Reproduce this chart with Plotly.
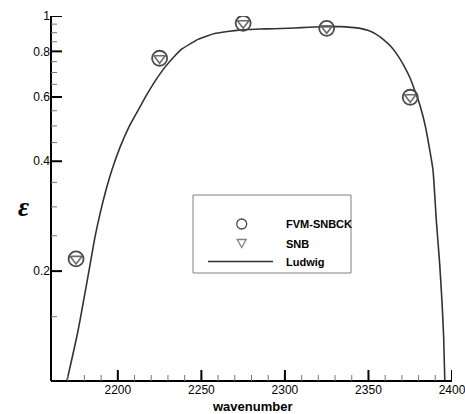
import plotly.graph_objects as go

# ---- data ----
pts_wn = [2175, 2225, 2275, 2325, 2375]
fvm_eps = [0.216, 0.766, 0.955, 0.925, 0.599]
snb_eps = [0.216, 0.766, 0.955, 0.925, 0.599]

ludwig_wn = [2169.5, 2176, 2182.7, 2186.4, 2189.4, 2192.4, 2196.5, 2201.4, 2206.4, 2211.5,
             2217, 2222.5, 2228, 2233.5, 2238, 2243.5, 2248, 2253.5, 2258, 2263.5,
             2270, 2277.5, 2285, 2293.5, 2302, 2310, 2318, 2326, 2333.6, 2339.6,
             2345, 2349.6, 2354, 2359, 2363.6, 2367.5, 2371.6, 2375, 2377.6, 2380,
             2382, 2384, 2386, 2388.6, 2390.6, 2392.6, 2394, 2395, 2395.7]
ludwig_eps = [0.100, 0.136, 0.200, 0.249, 0.288, 0.327, 0.379, 0.438, 0.494, 0.545,
              0.605, 0.665, 0.722, 0.772, 0.810, 0.840, 0.863, 0.882, 0.895, 0.904,
              0.912, 0.918, 0.921, 0.923, 0.926, 0.929, 0.933, 0.935, 0.935, 0.931,
              0.925, 0.914, 0.895, 0.862, 0.824, 0.780, 0.726, 0.675, 0.627, 0.585,
              0.545, 0.500, 0.447, 0.379, 0.276, 0.210, 0.165, 0.132, 0.100]

y_major = [0.2, 0.4, 0.6, 0.8, 1]
y_major_text = ["0.2", "0.4", "0.6", "0.8", "1"]
y_minor = [0.15, 0.25, 0.3, 0.35, 0.45, 0.5, 0.55, 0.65, 0.7, 0.75, 0.85, 0.9, 0.95]
x_major = [2200, 2250, 2300, 2350, 2400]
x_minor = [v for v in range(2170, 2400, 10) if v % 50 != 0]

legend_names = ["FVM-SNBCK", "SNB", "Ludwig"]

W, H = 465, 414
L, R, T, B = 51, 13, 16, 33
pw, ph = W - L - R, H - T - B

def px(x):
    return (x - L) / pw

def py(y):
    return (H - B - y) / ph

MARK = "#4a4a4a"
TRI = "#6a6a6a"
LINE = "#333333"
FONT = "Liberation Sans, Arial, sans-serif"

fig = go.Figure()
fig.add_trace(go.Scatter(x=ludwig_wn, y=ludwig_eps, mode="lines",
                         line=dict(color=LINE, width=1.6, shape="spline", smoothing=0.6),
                         name=legend_names[2], showlegend=False, cliponaxis=True))
fig.add_trace(go.Scatter(x=pts_wn, y=fvm_eps, mode="markers", name=legend_names[0],
                         marker=dict(symbol="circle-open", size=15, color=MARK,
                                     line=dict(width=1.8, color=MARK)),
                         showlegend=False))
fig.add_trace(go.Scatter(x=pts_wn, y=snb_eps, mode="markers", name=legend_names[1],
                         marker=dict(symbol="triangle-down-open", size=10, color=TRI,
                                     line=dict(width=1.6, color=TRI)),
                         showlegend=False))

# axis frame (left and bottom), drawn above everything
fig.add_shape(type="line", xref="paper", yref="paper", x0=0, x1=0, y0=0, y1=1,
              line=dict(color="black", width=2), layer="above")
fig.add_shape(type="line", xref="paper", yref="paper", x0=0, x1=1, y0=0, y1=0,
              line=dict(color="black", width=2), layer="above")

# major / minor ticks, positioned through the axes
for v in x_major:
    fig.add_shape(type="line", xref="x", yref="paper", x0=v, x1=v, y0=0, y1=11 / ph,
                  line=dict(color="black", width=2), layer="above")
for v in x_minor:
    fig.add_shape(type="line", xref="x", yref="paper", x0=v, x1=v, y0=0, y1=6 / ph,
                  line=dict(color="#777777", width=1), layer="above")
for v in y_major:
    fig.add_shape(type="line", xref="paper", yref="y", x0=0, x1=11 / pw, y0=v, y1=v,
                  line=dict(color="black", width=2), layer="above")
for v in y_minor:
    fig.add_shape(type="line", xref="paper", yref="y", x0=0, x1=6 / pw, y0=v, y1=v,
                  line=dict(color="#777777", width=1), layer="above")

# legend box and symbols
fig.add_shape(type="rect", xref="paper", yref="paper",
              x0=px(193), x1=px(351), y0=py(273), y1=py(195),
              line=dict(color="#808080", width=1), fillcolor="rgba(0,0,0,0)")
cx = 241.7
fig.add_shape(type="circle", xref="paper", yref="paper",
              x0=px(cx - 5), x1=px(cx + 5), y0=py(224 + 5), y1=py(224 - 5),
              line=dict(color=MARK, width=1.3))
tri_path = "M %f,%f L %f,%f L %f,%f Z" % (px(cx - 4.5), py(239.5), px(cx + 4.5), py(239.5),
                                          px(cx), py(247.5))
fig.add_shape(type="path", xref="paper", yref="paper", path=tri_path,
              line=dict(color="#808080", width=1.3))
fig.add_shape(type="line", xref="paper", yref="paper",
              x0=px(208), x1=px(273), y0=py(261.5), y1=py(261.5),
              line=dict(color=LINE, width=1.6))

for name, yy in zip(legend_names, [224, 243.5, 261.5]):
    fig.add_annotation(xref="paper", yref="paper", x=px(284), y=py(yy),
                       text="<b>%s</b>" % name, showarrow=False, xanchor="left",
                       yanchor="middle", font=dict(family=FONT, size=11, color="black"))

fig.add_annotation(xref="paper", yref="paper", x=0.5, y=0, yshift=-25,
                   text="<b>wavenumber</b>", showarrow=False, xanchor="center",
                   yanchor="middle", font=dict(family=FONT, size=13, color="black"))
fig.add_annotation(xref="paper", yref="paper", x=0, xshift=-28, y=py(207),
                   text="<b><i>ε</i></b>", showarrow=False, xanchor="center",
                   yanchor="middle",
                   font=dict(family="Liberation Serif, Times New Roman, serif", size=27,
                             color="black"))

fig.update_layout(
    width=W, height=H, margin=dict(l=L, r=R, t=T, b=B, autoexpand=False),
    paper_bgcolor="white", plot_bgcolor="white", showlegend=False,
    font=dict(family=FONT, size=12, color="black"),
    xaxis=dict(range=[2160, 2400], tickmode="array", tickvals=x_major, ticks="",
               showline=False, showgrid=False, zeroline=False, ticklabeloverflow="allow",
               automargin=False, tickfont=dict(family=FONT, size=12)),
    yaxis=dict(type="log", range=[-1, 0], tickmode="array", tickvals=y_major,
               ticktext=y_major_text, ticks="", showline=False, automargin=False,
               showgrid=False, zeroline=False, tickfont=dict(family=FONT, size=12)),
)

fig.write_html("out.html")
